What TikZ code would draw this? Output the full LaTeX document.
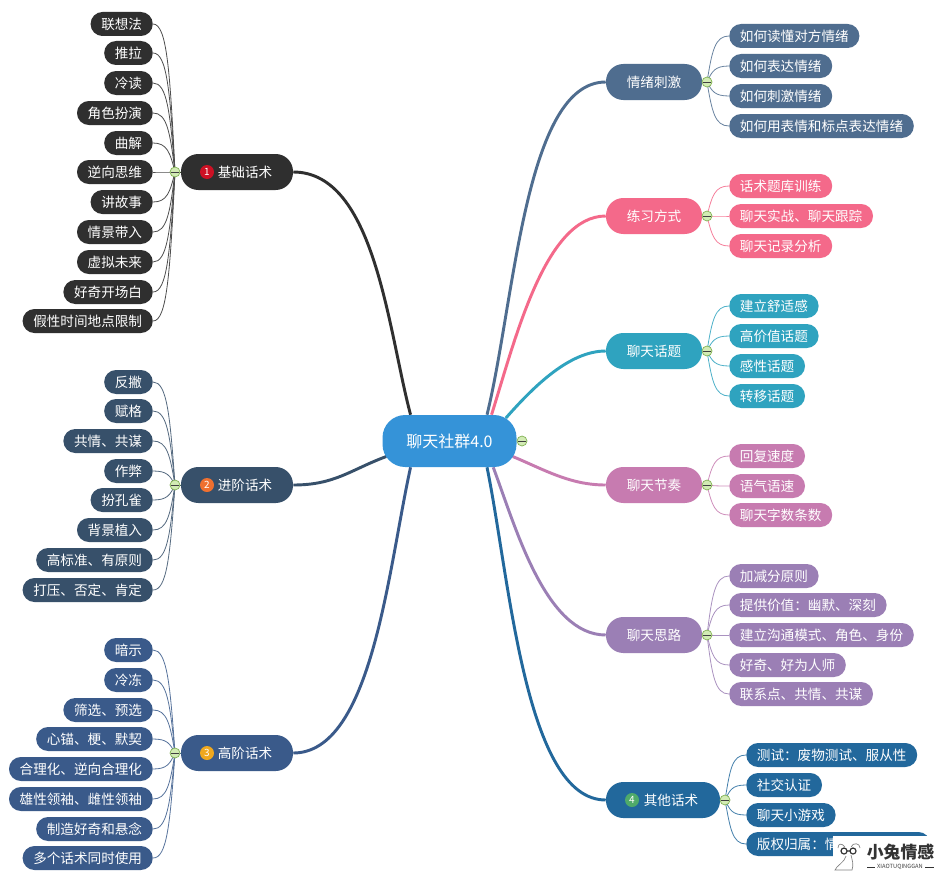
\documentclass[tikz,border=0pt]{standalone}
\usepackage{fontspec}
\setmainfont{Noto Sans CJK SC}
\usetikzlibrary{backgrounds}
\definecolor{cRoot}{HTML}{3593D8}
\definecolor{cA}{HTML}{2F2F2F}
\definecolor{cB}{HTML}{37506A}
\definecolor{cC}{HTML}{3A5A8A}
\definecolor{cD}{HTML}{22689C}
\definecolor{cE}{HTML}{4F6D8F}
\definecolor{cF}{HTML}{F4698A}
\definecolor{cG}{HTML}{2FA3BF}
\definecolor{cH}{HTML}{C77BB0}
\definecolor{cI}{HTML}{9B7FB5}
\definecolor{togFill}{HTML}{D2EBB4}
\definecolor{togEdge}{HTML}{7FB050}
\definecolor{nOne}{HTML}{CC1124}
\definecolor{nTwo}{HTML}{EF7030}
\definecolor{nThree}{HTML}{F0A81E}
\definecolor{nFour}{HTML}{4FAA6A}
\tikzset{
  leaf/.style={rectangle,rounded corners=8.9pt,minimum height=18pt,inner xsep=8pt,inner ysep=0pt,
    text=white,font=\fontsize{10.2}{12}\selectfont},
  branch/.style={rectangle,rounded corners=13pt,minimum height=27pt,inner xsep=0pt,inner ysep=0pt,
    text=white,font=\fontsize{10.2}{12}\selectfont},
  rootnode/.style={rectangle,rounded corners=17pt,minimum height=39pt,minimum width=100.5pt,inner sep=0pt,
    fill=cRoot,text=white,font=\fontsize{12}{14}\selectfont},
  tog/.style={circle,draw=togEdge,fill=togFill,line width=.5pt,minimum size=7.5pt,inner sep=0pt,
    path picture={\draw[black!75,line width=.5pt] ([xshift=1pt]path picture bounding box.west) -- ([xshift=-1pt]path picture bounding box.east);}},
  badge/.style={circle,minimum size=10.5pt,inner sep=0pt,text=white,font=\fontsize{7.5}{8}\selectfont},
  linkline/.style={line width=.6pt},
  mainline/.style={line width=2.2pt}
}
% group: toggle name, toggle x, toggle y, side (+1 right, -1 left), leaf anchor, leaf x, colour
\newcommand{\leafgroup}[7]{\def\gT{#1}\def\gX{#2}\def\gY{#3}\def\gS{#4}\def\gA{#5}\def\gL{#6}\def\gC{#7}}
% leaf: name, y, text
\newcommand{\lf}[3]{%
  \node[leaf,fill=\gC,anchor=\gA] (#1) at (\gL,#2) {#3};
  \pgfmathsetmacro{\cy}{\gY+(#2-\gY)*0.68}
  \pgfmathsetmacro{\cx}{\gX+\gS*5}
  \pgfmathsetmacro{\lx}{\gL-\gS*14}
  \begin{pgfonlayer}{background}
    \draw[linkline,\gC!85!white] (\gT.center) .. controls (\cx,\cy) and (\lx,#2) .. (#1.\gA);
  \end{pgfonlayer}
}
\begin{document}
\begin{tikzpicture}[x=0.75pt,y=-0.75pt]
\begin{pgfonlayer}{background}
  \fill[white] (0,0) rectangle (944,881);
\end{pgfonlayer}
\path[use as bounding box] (0,0) rectangle (944,881);

\node[rootnode] (root) at (449.5,441) {聊天社群4.0};
\node[tog] (trt) at (522,441) {};

% left branches
\node[branch,fill=cA,minimum width=84pt] (b1) at (237,172) {\hspace{12pt}基础话术};
\node[badge,fill=nOne] (n1) at (207,172) {1};
\node[tog] (t1) at (175,172) {};
\node[branch,fill=cB,minimum width=84pt] (b2) at (237,485) {\hspace{12pt}进阶话术};
\node[badge,fill=nTwo] (n2) at (207,485) {2};
\node[tog] (t2) at (175,485) {};
\node[branch,fill=cC,minimum width=84pt] (b3) at (237,753) {\hspace{12pt}高阶话术};
\node[badge,fill=nThree] (n3) at (207,753) {3};
\node[tog] (t3) at (175,753) {};

% right branches
\node[branch,fill=cE,minimum width=72pt] (r1) at (654,82) {情绪刺激};
\node[tog] (u1) at (707,82) {};
\node[branch,fill=cF,minimum width=72pt] (r2) at (654,216) {练习方式};
\node[tog] (u2) at (707,216) {};
\node[branch,fill=cG,minimum width=72pt] (r3) at (654,351) {聊天话题};
\node[tog] (u3) at (707,351) {};
\node[branch,fill=cH,minimum width=72pt] (r4) at (654,485) {聊天节奏};
\node[tog] (u4) at (707,485) {};
\node[branch,fill=cI,minimum width=72pt] (r5) at (654,635) {聊天思路};
\node[tog] (u5) at (707,635) {};
\node[branch,fill=cD,minimum width=85.5pt] (r6) at (663,800) {\hspace{12pt}其他话术};
\node[badge,fill=nFour] (n4) at (632,800) {4};
\node[tog] (u6) at (725,800) {};

\begin{pgfonlayer}{background}
  \draw[mainline,cA] (b1.east) .. controls (375,172) and (388,330) .. (root.146);
  \draw[mainline,cB] (b2.east) .. controls (335,485) and (350,470) .. ([xshift=3pt]root.193);
  \draw[mainline,cC] (b3.east) .. controls (372,753) and (388,570) .. (root.214);
  \draw[mainline,cE] (r1.west) .. controls (525,82) and (515,300) .. (root.35);
  \draw[mainline,cF] (r2.west) .. controls (545,216) and (515,340) .. (root.32);
  \draw[mainline,cG] (r3.west) .. controls (570,351) and (535,385) .. ([yshift=-2.5pt]root.25);
  \draw[mainline,cH] (r4.west) .. controls (570,485) and (545,470) .. ([xshift=-3pt]root.-13);
  \draw[mainline,cI] (r5.west) .. controls (545,635) and (515,525) .. (root.-31);
  \draw[mainline,cD] (r6.west) .. controls (525,800) and (510,580) .. (root.-35);
  \draw[linkline,cA] (b1.west) -- (t1);
  \draw[linkline,cB] (b2.west) -- (t2);
  \draw[linkline,cC] (b3.west) -- (t3);
  \draw[linkline,cE] (r1.east) -- (u1);
  \draw[linkline,cF] (r2.east) -- (u2);
  \draw[linkline,cG] (r3.east) -- (u3);
  \draw[linkline,cH] (r4.east) -- (u4);
  \draw[linkline,cI] (r5.east) -- (u5);
  \draw[linkline,cD] (r6.east) -- (u6);
\end{pgfonlayer}

\leafgroup{t1}{175}{172}{-1}{east}{153}{cA}
\lf{a1}{24}{联想法}
\lf{a2}{53}{推拉}
\lf{a3}{83}{冷读}
\lf{a4}{113}{角色扮演}
\lf{a5}{143}{曲解}
\lf{a6}{172}{逆向思维}
\lf{a7}{202}{讲故事}
\lf{a8}{232}{情景带入}
\lf{a9}{262}{虚拟未来}
\lf{a10}{292}{好奇开场白}
\lf{a11}{321}{假性时间地点限制}

\leafgroup{t2}{175}{485}{-1}{east}{153}{cB}
\lf{c1}{382}{反撇}
\lf{c2}{411}{赋格}
\lf{c3}{441}{共情、共谋}
\lf{c4}{471}{作弊}
\lf{c5}{500}{扮孔雀}
\lf{c6}{530}{背景植入}
\lf{c7}{560}{高标准、有原则}
\lf{c8}{590}{打压、否定、肯定}

\leafgroup{t3}{175}{753}{-1}{east}{153}{cC}
\lf{d1}{650}{暗示}
\lf{d2}{680}{冷冻}
\lf{d3}{710}{筛选、预选}
\lf{d4}{739}{心锚、梗、默契}
\lf{d5}{769}{合理化、逆向合理化}
\lf{d6}{799}{雄性领袖、雌性领袖}
\lf{d7}{829}{制造好奇和悬念}
\lf{d8}{858}{多个话术同时使用}

\leafgroup{u1}{707}{82}{1}{west}{729}{cE}
\lf{e1}{36}{如何读懂对方情绪}
\lf{e2}{66}{如何表达情绪}
\lf{e3}{96}{如何刺激情绪}
\lf{e4}{126}{如何用表情和标点表达情绪}

\leafgroup{u2}{707}{216}{1}{west}{729}{cF}
\lf{f1}{186}{话术题库训练}
\lf{f2}{216}{聊天实战、聊天跟踪}
\lf{f3}{246}{聊天记录分析}

\leafgroup{u3}{707}{351}{1}{west}{729}{cG}
\lf{g1}{306}{建立舒适感}
\lf{g2}{336}{高价值话题}
\lf{g3}{366}{感性话题}
\lf{g4}{396}{转移话题}

\leafgroup{u4}{707}{485}{1}{west}{729}{cH}
\lf{h1}{456}{回复速度}
\lf{h2}{486}{语气语速}
\lf{h3}{515}{聊天字数条数}

\leafgroup{u5}{707}{635}{1}{west}{729}{cI}
\lf{i1}{576}{加减分原则}
\lf{i2}{605}{提供价值：幽默、深刻}
\lf{i3}{635}{建立沟通模式、角色、身份}
\lf{i4}{665}{好奇、好为人师}
\lf{i5}{694}{联系点、共情、共谋}

\leafgroup{u6}{725}{800}{1}{west}{746}{cD}
\lf{j1}{755}{测试：废物测试、服从性}
\lf{j2}{785}{社交认证}
\lf{j3}{815}{聊天小游戏}
\node[leaf,fill=cD,anchor=west,minimum width=138pt,text width=122pt] (j4) at (746,844) {版权归属：情};
\begin{pgfonlayer}{background}
  \draw[linkline,cD!85!white] (u6.center) .. controls (730,827) and (732,844) .. (j4.west);
\end{pgfonlayer}

% watermark
\fill[white] (833,836) rectangle (944,881);
\node[font=\fontsize{12.6}{14}\selectfont\bfseries,text=black!80,inner sep=0pt] (wm) at (900.5,852) {小兔情感};
\node[font=\fontsize{4.3}{5}\selectfont,text=black!75,inner sep=0pt] (wm2) at (900,867) {XIAOTUQINGGAN};
\draw[black!80,line width=.6pt] (867,867) -- (875,867) (925,867) -- (934,867);
\draw[black!80,line width=.9pt] (844,851) circle (3) (853,851) circle (3) (847,851) -- (850,851);
\draw[black!50,line width=.5pt] (838,848) .. controls (838,843) and (842,843) .. (845,847)
  (851,847) .. controls (853,842) and (860,843) .. (860,848)
  (846,856) .. controls (845,862) and (836,866) .. (835,870) -- (852,870)
  .. controls (854,864) and (852,860) .. (851,855);
\end{tikzpicture}
\end{document}
